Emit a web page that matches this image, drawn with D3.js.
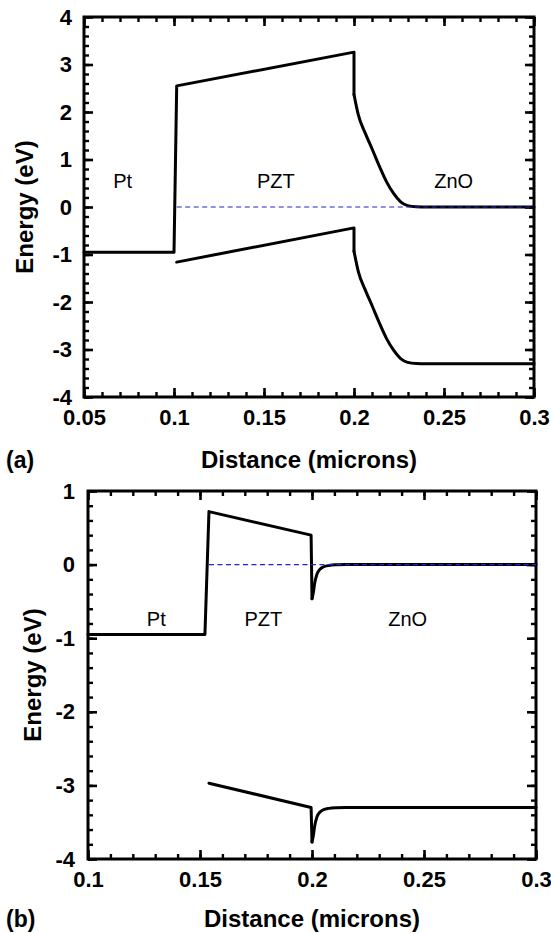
<!DOCTYPE html>
<html>
<head>
<meta charset="utf-8">
<script src="https://cdn.jsdelivr.net/npm/d3@7"></script>
<style>
body { margin: 0; background: #fff; }
svg { display: block; }
</style>
</head>
<body>
<svg id="chart" width="551" height="934"></svg>
<script>
const FONT = "'Liberation Sans', Arial, Helvetica, sans-serif";

// ---- panel (a) values ----
const aXTicks = [0.05, 0.1, 0.15, 0.2, 0.25, 0.3];
const aXTickLabels = ["0.05", "0.1", "0.15", "0.2", "0.25", "0.3"];
const aYTicks = [4, 3, 2, 1, 0, -1, -2, -3, -4];
const aYTickLabels = ["4", "3", "2", "1", "0", "-1", "-2", "-3", "-4"];

// Pt level + PZT conduction edge (straight pieces, ends at the ZnO side of the step)
const aUpperX = [0.05, 0.1, 0.1015, 0.2, 0.2];
const aUpperY = [-0.955, -0.955, 2.55, 3.26, 2.37];
// ZnO conduction edge bending down to the Fermi level
const aUpperBendX = [0.2, 0.2024, 0.2063, 0.2103, 0.2142, 0.2181, 0.2219, 0.2259, 0.2298, 0.2346, 0.24, 0.3];
const aUpperBendY = [2.37, 1.94, 1.55, 1.2, 0.85, 0.53, 0.29, 0.11, 0.03, 0.004, 0, 0];
// PZT valence edge, then ZnO valence edge
const aLowerX = [0.1015, 0.2, 0.2];
const aLowerY = [-1.16, -0.44, -0.93];
const aLowerBendX = [0.2, 0.2024, 0.2063, 0.2103, 0.2142, 0.2181, 0.2219, 0.2259, 0.2298, 0.2346, 0.24, 0.3];
const aLowerBendY = [-0.93, -1.36, -1.75, -2.1, -2.45, -2.77, -3.01, -3.19, -3.27, -3.296, -3.3, -3.3];
const aFermiX = [0.1015, 0.3];
const aFermiY = [0, 0];

// ---- panel (b) values ----
const bXTicks = [0.1, 0.15, 0.2, 0.25, 0.3];
const bXTickLabels = ["0.1", "0.15", "0.2", "0.25", "0.3"];
const bYTicks = [1, 0, -1, -2, -3, -4];
const bYTickLabels = ["1", "0", "-1", "-2", "-3", "-4"];

const bUpperX = [0.1, 0.1522, 0.154, 0.1996, 0.2];
const bUpperY = [-0.95, -0.95, 0.72, 0.4, -0.465];
const bUpperBendX = [0.2, 0.2006, 0.2012, 0.2022, 0.2035, 0.205, 0.2075, 0.211, 0.215, 0.3];
const bUpperBendY = [-0.465, -0.38, -0.25, -0.13, -0.065, -0.032, -0.012, -0.003, 0, 0];
const bLowerX = [0.154, 0.1996, 0.2];
const bLowerY = [-2.97, -3.3, -3.77];
const bLowerBendX = [0.2, 0.2006, 0.2012, 0.2022, 0.2035, 0.205, 0.2075, 0.211, 0.215, 0.3];
const bLowerBendY = [-3.77, -3.68, -3.55, -3.43, -3.365, -3.332, -3.312, -3.303, -3.3, -3.3];
const bFermiX = [0.154, 0.3];
const bFermiY = [0, 0];

const regionNames = ["Pt", "PZT", "ZnO"];
const aRegionX = [0.0715, 0.1566, 0.2554];
const aRegionY = 0.41;
const bRegionX = [0.1305, 0.1783, 0.2427];
const bRegionY = -0.83;

const svg = d3.select("#chart");

const drawPanel = p => {
    const g = svg.append("g");

    const x = d3.scaleLinear().domain(p.xDomain).range([p.left, p.right]);
    const y = d3.scaleLinear().domain(p.yDomain).range([p.bottom, p.top]);

    // Minor ticks every 0.01 / 0.2, drawn inward on all four sides.
    const xMinor = d3.range(Math.round(p.xDomain[0] * 100), Math.round(p.xDomain[1] * 100) + 1).map(d => d / 100);
    const yMinor = d3.range(Math.round(p.yDomain[0] * 5), Math.round(p.yDomain[1] * 5) + 1).map(d => d / 5);

    const minorAxes = [
        [d3.axisBottom(x).tickValues(xMinor), `translate(0,${p.bottom})`],
        [d3.axisTop(x).tickValues(xMinor), `translate(0,${p.top})`],
        [d3.axisLeft(y).tickValues(yMinor), `translate(${p.left},0)`],
        [d3.axisRight(y).tickValues(yMinor), `translate(${p.right},0)`]
    ];
    minorAxes.forEach(([axis, tr]) => {
        g.append("g").attr("transform", tr)
            .call(axis.tickSize(-5).tickFormat(""))
            .call(s => s.select(".domain").remove())
            .selectAll("line").attr("stroke-width", 2.4);
    });

    const majorAxes = [
        [d3.axisBottom(x).tickValues(p.xTicks).tickFormat((d, i) => p.xLabels[i]).tickPadding(12), `translate(0,${p.bottom})`],
        [d3.axisTop(x).tickValues(p.xTicks).tickFormat(""), `translate(0,${p.top})`],
        [d3.axisLeft(y).tickValues(p.yTicks).tickFormat((d, i) => p.yLabels[i]).tickPadding(p.yPad), `translate(${p.left},0)`],
        [d3.axisRight(y).tickValues(p.yTicks).tickFormat(""), `translate(${p.right},0)`]
    ];
    majorAxes.forEach(([axis, tr]) => {
        const a = g.append("g").attr("transform", tr)
            .call(axis.tickSize(-9))
            .call(s => s.select(".domain").remove());
        a.attr("font-family", FONT).attr("font-size", 22).attr("font-weight", "bold");
        a.selectAll("line").attr("stroke-width", 2.6);
        a.selectAll("text").attr("fill", "#000");
    });

    // Frame
    g.append("rect")
        .attr("x", p.left).attr("y", p.top)
        .attr("width", p.right - p.left).attr("height", p.bottom - p.top)
        .attr("fill", "none").attr("stroke", "#000").attr("stroke-width", 3);

    const line = d3.line().x(d => x(d[0])).y(d => y(d[1]));
    const smooth = d3.line().x(d => x(d[0])).y(d => y(d[1])).curve(d3.curveMonotoneX);

    // Straight band pieces and their bent continuation in ZnO
    [[p.upperX, p.upperY, line], [p.upperBendX, p.upperBendY, smooth],
     [p.lowerX, p.lowerY, line], [p.lowerBendX, p.lowerBendY, smooth]].forEach(([xs, ys, gen]) => {
        g.append("path")
            .datum(d3.zip(xs, ys))
            .attr("d", gen)
            .attr("fill", "none")
            .attr("stroke", "#000")
            .attr("stroke-width", 3)
            .attr("stroke-linejoin", "round")
            .attr("stroke-linecap", "round");
    });

    // Fermi level
    g.append("path")
        .datum(d3.zip(p.fermiX, p.fermiY))
        .attr("d", line)
        .attr("fill", "none")
        .attr("stroke", "#2222d0")
        .attr("stroke-width", 1.2)
        .attr("stroke-dasharray", "5,3.5");

    // Region names
    g.selectAll("text.region")
        .data(regionNames)
        .join("text")
        .attr("class", "region")
        .attr("x", (d, i) => x(p.regionX[i]))
        .attr("y", y(p.regionY))
        .attr("text-anchor", "middle")
        .attr("font-family", FONT)
        .attr("font-size", 20)
        .text(d => d);

    // Axis titles and panel tag
    g.append("text")
        .attr("x", (p.left + p.right) / 2)
        .attr("y", p.titleY)
        .attr("text-anchor", "middle")
        .attr("font-family", FONT)
        .attr("font-size", 24)
        .attr("font-weight", "bold")
        .text("Distance (microns)");

    g.append("text")
        .attr("transform", `translate(${p.yTitleX},${(p.top + p.bottom) / 2}) rotate(-90)`)
        .attr("text-anchor", "middle")
        .attr("font-family", FONT)
        .attr("font-size", 24)
        .attr("font-weight", "bold")
        .text("Energy (eV)");

    g.append("text")
        .attr("x", 6)
        .attr("y", p.titleY)
        .attr("font-family", FONT)
        .attr("font-size", 23)
        .attr("font-weight", "bold")
        .text(p.tag);
};

drawPanel({
    left: 84, right: 534, top: 17, bottom: 397,
    xDomain: [0.05, 0.3], yDomain: [-4, 4],
    xTicks: aXTicks, xLabels: aXTickLabels,
    yTicks: aYTicks, yLabels: aYTickLabels, yPad: 12,
    upperX: aUpperX, upperY: aUpperY,
    upperBendX: aUpperBendX, upperBendY: aUpperBendY,
    lowerX: aLowerX, lowerY: aLowerY,
    lowerBendX: aLowerBendX, lowerBendY: aLowerBendY,
    fermiX: aFermiX, fermiY: aFermiY,
    regionX: aRegionX, regionY: aRegionY,
    titleY: 468, yTitleX: 33, tag: "(a)"
});

drawPanel({
    left: 88, right: 536, top: 491, bottom: 859,
    xDomain: [0.1, 0.3], yDomain: [-4, 1],
    xTicks: bXTicks, xLabels: bXTickLabels,
    yTicks: bYTicks, yLabels: bYTickLabels, yPad: 13,
    upperX: bUpperX, upperY: bUpperY,
    upperBendX: bUpperBendX, upperBendY: bUpperBendY,
    lowerX: bLowerX, lowerY: bLowerY,
    lowerBendX: bLowerBendX, lowerBendY: bLowerBendY,
    fermiX: bFermiX, fermiY: bFermiY,
    regionX: bRegionX, regionY: bRegionY,
    titleY: 927, yTitleX: 41, tag: "(b)"
});
</script>
</body>
</html>
